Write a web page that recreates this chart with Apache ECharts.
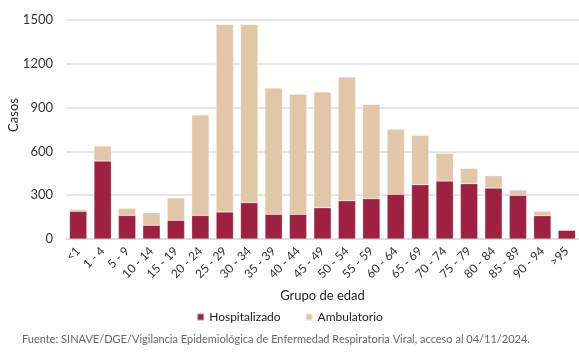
<!DOCTYPE html>
<html>
<head>
<meta charset="utf-8">
<script src="https://cdn.jsdelivr.net/npm/echarts@6/dist/echarts.min.js"></script>
<style>
  html, body { margin: 0; padding: 0; background: #fff; }
  #grafica { width: 579px; height: 352px; }
</style>
</head>
<body>
<div id="grafica"></div>
<script>
// datos por grupo de edad
var grupos = ['<1', '1 - 4', '5 - 9', '10 - 14', '15 - 19', '20 - 24', '25 - 29', '30 - 34', '35 - 39', '40 - 44',
  '45 - 49', '50 - 54', '55 - 59', '60 - 64', '65 - 69', '70 - 74', '75 - 79', '80 - 84', '85 - 89', '90 - 94', '>95'];
var hospitalizado = [190, 534, 162, 94, 128, 162, 185, 249, 169, 169, 214, 262, 276, 306, 372, 397, 379, 349, 299, 160, 60];
var ambulatorio = [13, 103, 48, 86, 153, 687, 1285, 1221, 865, 822, 793, 848, 646, 445, 338, 190, 105, 85, 37, 30, 3];
var ticksY = [0, 300, 600, 900, 1200, 1500];

var fuente = 'Fuente: SINAVE/DGE/Vigilancia Epidemiológica de Enfermedad Respiratoria Viral, acceso al 04/11/2024.';
var letra = 'Lato, "Noto Sans", sans-serif';

var option = {
  textStyle: { fontFamily: letra },
  animation: false,
  grid: {
    left: 66,
    right: 0,
    top: 20,
    bottom: 113
  },
  legend: {
    top: 306,
    left: 'center',
    itemWidth: 7,
    itemHeight: 7,
    itemGap: 24,
    icon: 'rect',
    textStyle: { fontSize: 12, color: '#222', fontFamily: letra },
    data: ['Hospitalizado', 'Ambulatorio']
  },
  graphic: [
    {
      // titulo del eje y, un poco arriba del centro
      type: 'text',
      x: 14,
      y: 115,
      rotation: Math.PI / 2,
      style: { text: 'Casos', fontSize: 13, fill: '#222', fontFamily: letra, align: 'center', verticalAlign: 'middle' }
    },
    {
      type: 'text',
      left: 22,
      top: 334,
      style: { text: fuente, fontSize: 11, fill: '#666', fontFamily: letra }
    }
  ],
  xAxis: {
    type: 'category',
    data: grupos,
    name: 'Grupo de edad',
    nameLocation: 'middle',
    nameGap: 50,
    nameTextStyle: { fontSize: 13, color: '#222' },
    axisTick: { show: false },
    axisLine: { lineStyle: { color: '#d9d9d9', width: 1.5 } },
    axisLabel: { interval: 0, rotate: 45, fontSize: 12, color: '#333', margin: 10 }
  },
  yAxis: {
    type: 'value',
    min: ticksY[0],
    max: ticksY[ticksY.length - 1],
    interval: 300,
    axisLabel: { fontSize: 13, color: '#333', margin: 13, formatter: function (v) { return String(v); } },
    splitLine: { lineStyle: { color: '#dedede', width: 1.5 } }
  },
  series: [
    {
      name: 'Hospitalizado',
      type: 'bar',
      stack: 'total',
      barCategoryGap: '29%',
      itemStyle: { color: '#9f2142', borderColor: 'rgba(255,255,255,0.5)', borderWidth: 0.5 },
      data: hospitalizado
    },
    {
      name: 'Ambulatorio',
      type: 'bar',
      stack: 'total',
      itemStyle: { color: '#e2c6a8', borderColor: 'rgba(255,255,255,0.5)', borderWidth: 0.5 },
      data: ambulatorio
    }
  ]
};

var myChart = echarts.init(document.getElementById('grafica'));
myChart.setOption(option);
</script>
</body>
</html>
